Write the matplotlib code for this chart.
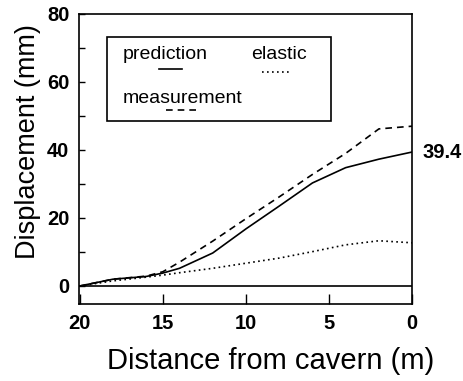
import matplotlib
matplotlib.use('Agg')
import matplotlib.pyplot as plt
from matplotlib.lines import Line2D
from matplotlib.patches import Rectangle

plt.rcParams['font.family'] = ['Liberation Sans', 'DejaVu Sans']

distance = [20, 18, 16, 15, 14, 12, 10, 8, 6, 4, 2, 0]
prediction = [0, 2.0, 2.8, 3.8, 5.2, 9.7, 16.8, 23.5, 30.3, 34.8, 37.3, 39.4]
measurement = [0, 2.0, 2.9, 4.2, 7.0, 13.2, 19.8, 26.2, 32.8, 39.0, 46.2, 47.0]
elastic = [0, 1.5, 2.6, 3.2, 3.9, 5.2, 6.7, 8.2, 10.1, 12.1, 13.3, 12.7]
end_label = '39.4'

fig = plt.figure(figsize=(4.63, 3.81), dpi=100)
ax = fig.add_axes([0.1706, 0.2021, 0.7195, 0.7612])

ax.plot(distance, prediction, color='black', lw=1.2, ls='-')
ax.plot(distance, measurement, color='black', lw=1.2, ls=(0, (4, 3)))
ax.plot(distance, elastic, color='black', lw=1.2, ls=(0, (1, 2)))
ax.axhline(0, color='black', lw=1.2)

ax.set_xlim(20.05, 0)
ax.set_ylim(-5.3, 80)
ax.set_xticks([20, 15, 10, 5, 0])
ax.set_yticks([0, 20, 40, 60, 80])
ax.set_yticks([10, 30, 50, 70], minor=True)
ax.tick_params(axis='x', direction='in', length=7, width=1, labelsize=14.5, pad=7)
ax.tick_params(axis='y', direction='in', length=4, width=1, labelsize=14.5, pad=7)
ax.tick_params(axis='y', which='minor', direction='in', length=4, width=1)
for lab in ax.get_xticklabels() + ax.get_yticklabels():
    lab.set_fontweight('bold')
for s in ax.spines.values():
    s.set_linewidth(1.2)

ax.set_xlabel('Distance from cavern (m)', fontsize=21, labelpad=10, x=0.575)
ax.set_ylabel('Displacement (mm)', fontsize=19.5, labelpad=4, y=0.56)

ax.text(1.03, prediction[-1], end_label, transform=ax.get_yaxis_transform(),
        fontsize=14.5, fontweight='bold', va='center', ha='left')

# hand-drawn legend box
ax.add_patch(Rectangle((0.084, 0.631), 0.674, 0.289, transform=ax.transAxes,
                       fill=False, ec='black', lw=1.2))
ax.text(0.13, 0.86, 'prediction', transform=ax.transAxes, fontsize=14,
        va='center', ha='left')
ax.text(0.518, 0.86, 'elastic', transform=ax.transAxes, fontsize=14,
        va='center', ha='left')
ax.text(0.13, 0.71, 'measurement', transform=ax.transAxes, fontsize=14,
        va='center', ha='left')
ax.add_line(Line2D([0.24, 0.31], [0.81, 0.81], transform=ax.transAxes,
                   color='black', lw=1.2))
ax.add_line(Line2D([0.55, 0.64], [0.80, 0.80], transform=ax.transAxes,
                   color='black', lw=1.2, ls=(0, (1, 2))))
ax.add_line(Line2D([0.26, 0.355], [0.67, 0.67], transform=ax.transAxes,
                   color='black', lw=1.2, ls=(0, (4, 3))))

fig.savefig('out.png', dpi=100)
